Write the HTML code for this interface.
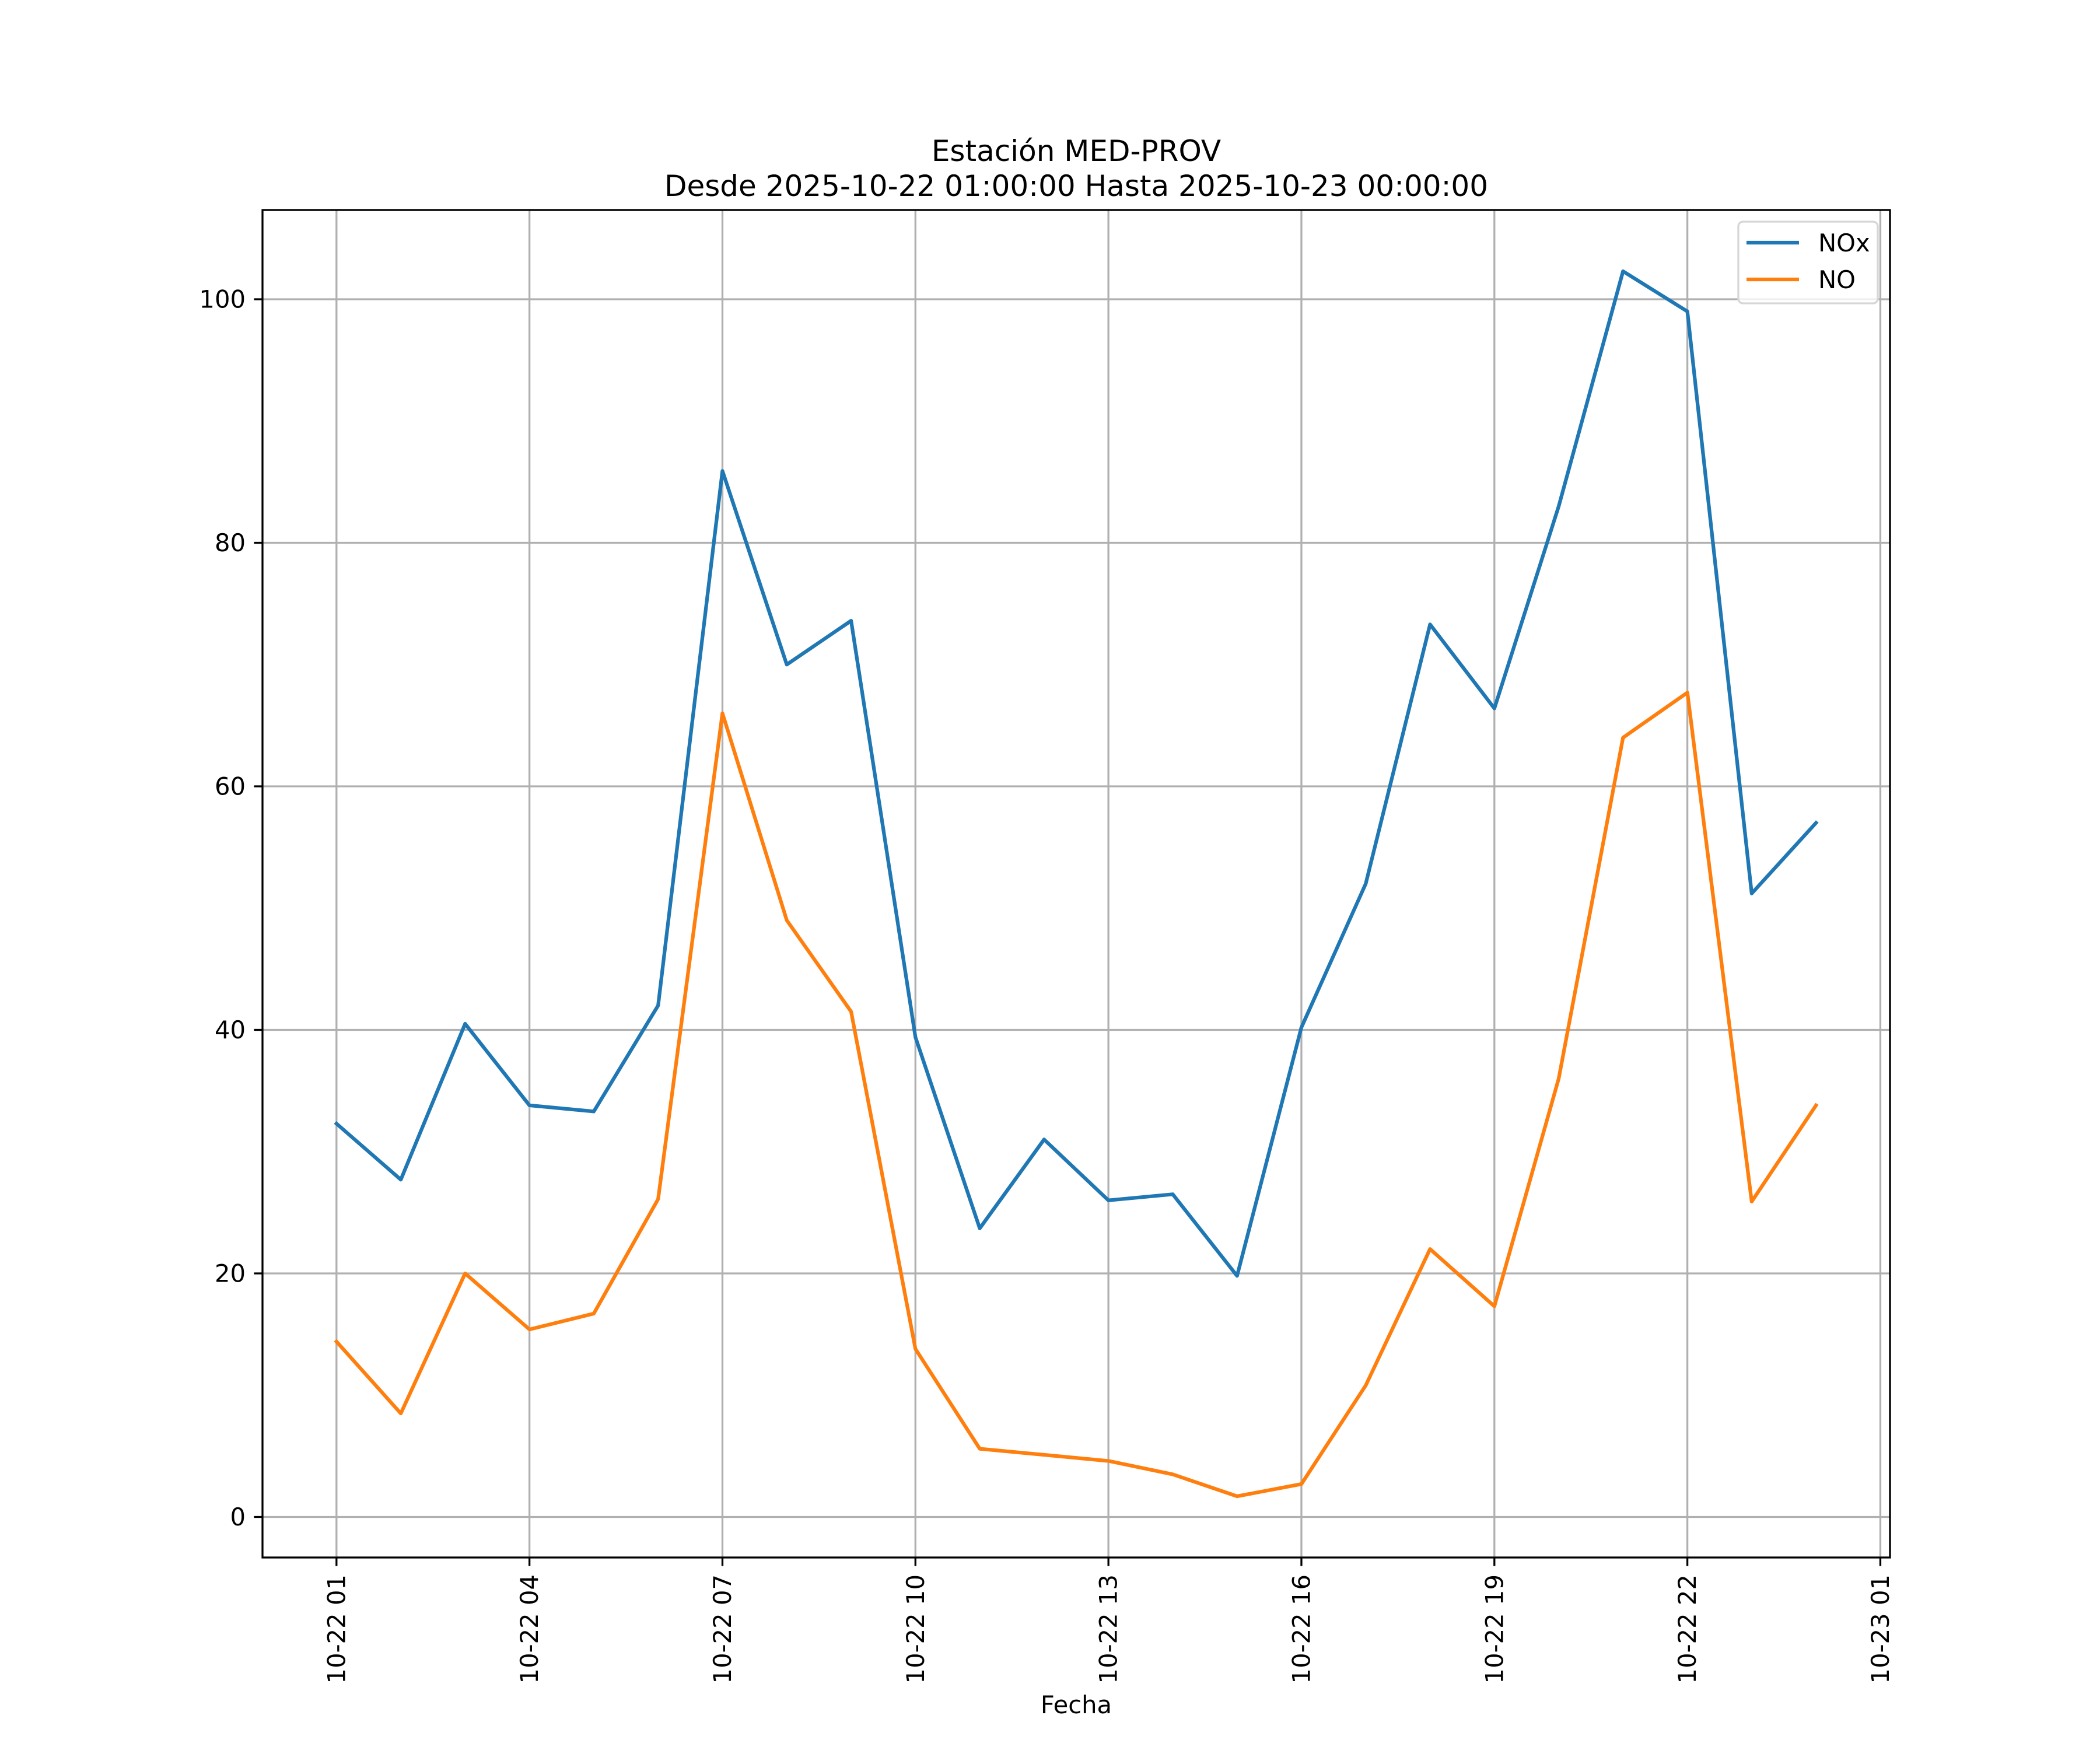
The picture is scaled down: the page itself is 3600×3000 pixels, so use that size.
<!DOCTYPE html>
<html><head><meta charset="utf-8"><style>
html,body{margin:0;padding:0;background:#fff}
svg{display:block;font-family:"DejaVu Sans","Liberation Sans",sans-serif}
</style></head><body>
<svg id="chart" width="3600" height="3000" viewBox="0 0 3600 3000" xmlns="http://www.w3.org/2000/svg">
<rect width="3600" height="3000" fill="#fff"/>
<text x="1845" y="276" font-size="50" text-anchor="middle">Estación MED-PROV</text>
<text x="1845" y="336" font-size="50" text-anchor="middle">Desde 2025-10-22 01:00:00 Hasta 2025-10-23 00:00:00</text>
<g id="grid"></g><g id="series"></g><g id="axes"></g>
<text x="1845" y="2937" font-size="41.7" text-anchor="middle">Fecha</text>
<g>
<rect x="2980" y="380" width="239" height="140" rx="8" fill="#fff" fill-opacity="0.8" stroke="#d6d6d6" stroke-width="3.3"/>
<line x1="2994" y1="416" x2="3084" y2="416" stroke="#1f77b4" stroke-width="6.25"/>
<text x="3117" y="431" font-size="41.7">NOx</text>
<line x1="2994" y1="479" x2="3084" y2="479" stroke="#ff7f0e" stroke-width="6.25"/>
<text x="3117" y="494" font-size="41.7">NO</text>
</g>
</svg>
<script>
const hours = [1,2,3,4,5,6,7,8,9,10,11,12,13,14,15,16,17,18,19,20,21,22,23,24];
const noxValues = [32.3,27.7,40.5,33.8,33.3,42,85.9,70,73.6,39.4,23.7,31,26,26.5,19.8,40.2,52,73.3,66.4,83,102.3,99,51.2,57];
const noValues = [14.4,8.5,20,15.4,16.7,26.1,66,49,41.5,13.8,5.6,5.1,4.6,3.5,1.7,2.7,10.8,22,17.3,36,64,67.7,25.9,33.8];
const xTickHours = [1,4,7,10,13,16,19,22,25];
const xTickLabels = ["10-22 01","10-22 04","10-22 07","10-22 10","10-22 13","10-22 16","10-22 19","10-22 22","10-23 01"];
const yTicks = [0,20,40,60,80,100];

const L=450,R=3240,T=360,B=2670;
const all=noxValues.concat(noValues);
const ymin=Math.min(...all), ymax=Math.max(...all), yr=ymax-ymin;
const y0=ymin-0.05*yr, y1=ymax+0.05*yr;
const hmin=Math.min(...hours), hmax=Math.max(...hours), hr=hmax-hmin;
const x0=hmin-0.05*hr, x1=hmax+0.05*hr;
const X=h=>L+(h-x0)/(x1-x0)*(R-L);
const Y=v=>B-(v-y0)/(y1-y0)*(B-T);
const NS="http://www.w3.org/2000/svg";
function mk(tag,attrs,parent){const e=document.createElementNS(NS,tag);for(const k in attrs)e.setAttribute(k,attrs[k]);parent.appendChild(e);return e;}
const grid=document.getElementById('grid'),series=document.getElementById('series'),axes=document.getElementById('axes');
xTickHours.forEach((h,i)=>{
  const x=X(h);
  const g=mk('line',{x1:x,y1:T,x2:x,y2:B,stroke:'#b0b0b0','stroke-width':3.3},grid);
  
  
  const t=mk('line',{x1:x,y1:B,x2:x,y2:B+14.6,stroke:'#000','stroke-width':3.3},axes);
  
  
  const tx=mk('text',{x:0,y:0,'font-size':41.7,'text-anchor':'end','dominant-baseline':'central',transform:`translate(${x},${B+29})rotate(-90)`},axes);
  tx.textContent=xTickLabels[i];
  
  
});
yTicks.forEach(v=>{
  const y=Y(v);
  const g=mk('line',{x1:L,y1:y,x2:R,y2:y,stroke:'#b0b0b0','stroke-width':3.3},grid);
  
  
  const t=mk('line',{x1:L-14.6,y1:y,x2:L,y2:y,stroke:'#000','stroke-width':3.3},axes);
  
  
  const tx=mk('text',{x:L-29,y:y,'font-size':41.7,'text-anchor':'end','dominant-baseline':'central'},axes);
  tx.textContent=String(v);
  
  
});
function line(vals,color,name){
  const p=mk('polyline',{points:hours.map((h,i)=>X(h)+','+Y(vals[i])).join(' '),fill:'none',stroke:color,'stroke-width':6.25,'stroke-linejoin':'round','stroke-linecap':'square'},series);
  
  
}
line(noxValues,'#1f77b4','nox-line');
line(noValues,'#ff7f0e','no-line');
const frame=mk('rect',{x:L,y:T,width:R-L,height:B-T,fill:'none',stroke:'#000','stroke-width':3.3},axes);


</script>
</body></html>
